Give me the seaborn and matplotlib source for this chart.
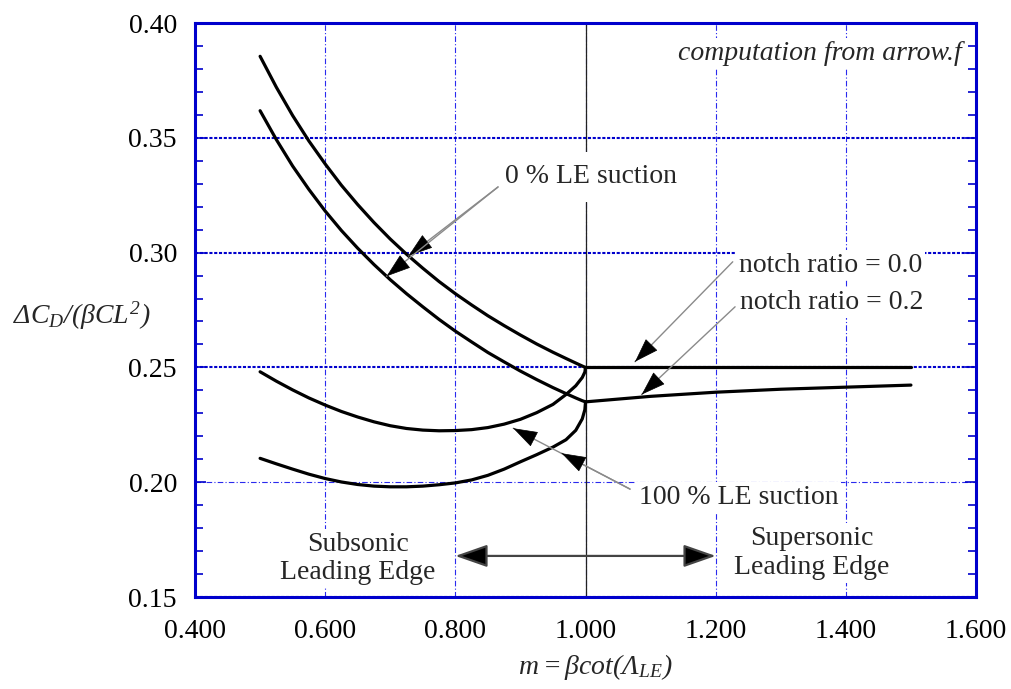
import matplotlib
matplotlib.use("Agg")
import matplotlib.pyplot as plt
from matplotlib.ticker import MultipleLocator, FormatStrFormatter
import pandas as pd
import seaborn as sns

# Subsonic leading edge (m <= 1)
m_sub = [0.500, 0.525, 0.550, 0.575, 0.600, 0.625, 0.650, 0.675, 0.700, 0.725, 0.750, 0.775,
         0.800, 0.825, 0.850, 0.875, 0.900, 0.925, 0.950, 0.970, 0.985, 0.995, 0.999, 1.000]
cd_le0_notch00 = [0.3855, 0.3720, 0.3597, 0.3486, 0.3386, 0.3293, 0.3209, 0.3131, 0.3059, 0.2993,
                  0.2932, 0.2874, 0.2821, 0.2772, 0.2725, 0.2682, 0.2641, 0.2602, 0.2566, 0.2539,
                  0.2519, 0.2506, 0.2501, 0.2500]
cd_le0_notch02 = [0.3618, 0.3492, 0.3377, 0.3275, 0.3181, 0.3096, 0.3019, 0.2948, 0.2882, 0.2821,
                  0.2764, 0.2709, 0.2658, 0.2611, 0.2565, 0.2524, 0.2484, 0.2447, 0.2412, 0.2386,
                  0.2367, 0.2355, 0.2351, 0.2350]
cd_le100_notch00 = [0.2481, 0.2440, 0.2402, 0.2367, 0.2336, 0.2308, 0.2284, 0.2263, 0.2246, 0.2234,
                    0.2227, 0.2224, 0.2225, 0.2229, 0.2238, 0.2253, 0.2274, 0.2303, 0.2339, 0.2382,
                    0.2420, 0.2456, 0.2480, 0.2500]
cd_le100_notch02 = [0.2104, 0.2080, 0.2057, 0.2035, 0.2016, 0.2001, 0.1990, 0.1983, 0.1980, 0.1980,
                    0.1983, 0.1989, 0.1997, 0.2010, 0.2030, 0.2057, 0.2089, 0.2120, 0.2153, 0.2185,
                    0.2226, 0.2276, 0.2316, 0.2350]

# Supersonic leading edge (m >= 1)
m_sup = [1.0, 1.1, 1.2, 1.3, 1.4, 1.5]
cd_sup_notch00 = [0.2500, 0.2500, 0.2500, 0.2500, 0.2500, 0.2500]
cd_sup_notch02 = [0.2350, 0.2374, 0.2392, 0.2405, 0.2414, 0.2423]

x_ticks = [0.4, 0.6, 0.8, 1.0, 1.2, 1.4, 1.6]
y_ticks = [0.15, 0.20, 0.25, 0.30, 0.35, 0.40]

curves = [
    ("0% LE, notch 0.0", m_sub, cd_le0_notch00),
    ("0% LE, notch 0.2", m_sub, cd_le0_notch02),
    ("100% LE, notch 0.0", m_sub, cd_le100_notch00),
    ("100% LE, notch 0.2", m_sub, cd_le100_notch02),
    ("supersonic, notch 0.0", m_sup, cd_sup_notch00),
    ("supersonic, notch 0.2", m_sup, cd_sup_notch02),
]
df = pd.concat(
    [pd.DataFrame({"m": m, "dcd": v, "curve": name}) for name, m, v in curves],
    ignore_index=True,
)

sns.set_theme(style="white")
plt.rcParams["font.family"] = ["Liberation Serif", "DejaVu Serif"]
plt.rcParams["mathtext.fontset"] = "custom"
plt.rcParams["mathtext.rm"] = "Liberation Serif:italic"
plt.rcParams["mathtext.it"] = "Liberation Serif:italic"
plt.rcParams["mathtext.bf"] = "Liberation Serif:bold"

BLUE = "#0000cc"
GRID = "#2a2aee"
FS = 20

fig = plt.figure(figsize=(10.11, 6.89), dpi=100)
ax = fig.add_axes([0.1929, 0.1335, 0.7725, 0.8331])

sns.lineplot(data=df, x="m", y="dcd", units="curve", estimator=None, sort=False,
             color="black", lw=2.3, ax=ax, legend=False, zorder=2)

ax.set_xlim(0.4, 1.6)
ax.set_ylim(0.15, 0.40)
ax.set_xticks(x_ticks)
ax.set_yticks(y_ticks)
ax.xaxis.set_major_formatter(FormatStrFormatter("%.3f"))
ax.yaxis.set_major_formatter(FormatStrFormatter("%.2f"))
ax.yaxis.set_minor_locator(MultipleLocator(0.01))

ax.set_axisbelow(True)
ax.xaxis.grid(True, ls=(0, (5, 2, 1, 2)), lw=0.8, color=GRID)
ax.yaxis.grid(True, ls=(0, (1.5, 0.8)), lw=1.5, color=BLUE)
for val, gl in zip(y_ticks, ax.yaxis.get_gridlines()):
    if abs(val - 0.20) < 1e-9:
        gl.set_linestyle((0, (5, 2, 1, 2)))
        gl.set_linewidth(0.8)
        gl.set_color(GRID)

# sonic leading edge, m = 1
ax.axvline(1.0, color="#222222", lw=0.9, zorder=1)

for s in ax.spines.values():
    s.set_color(BLUE)
    s.set_linewidth(2.2)
    s.set_visible(True)

ax.tick_params(axis="y", which="both", direction="in", left=True, right=True,
               color=BLUE, width=1.2, labelsize=FS, pad=13, labelcolor="black")
ax.tick_params(axis="y", which="major", length=8)
ax.tick_params(axis="y", which="minor", length=6)
ax.tick_params(axis="x", which="both", length=0, labelsize=FS, pad=16, labelcolor="black")

ax.set_xlabel(r"$m = \beta cot(\Lambda_{LE})$", fontsize=FS, va="center")
ax.xaxis.set_label_coords(0.512, -0.122)
ax.set_ylabel(r"$\Delta C_D/(\beta CL^2)$", fontsize=FS, rotation=0,
              ha="center", va="center")
ax.yaxis.set_label_coords(-0.145, 0.49)

white = dict(facecolor="white", edgecolor="none", boxstyle="square,pad=0.1")

ax.text(1.5786, 0.3839, "computation from arrow.f", fontsize=FS, style="italic",
        ha="right", va="baseline", bbox=white, zorder=3)
ax.text(0.8763, 0.3303, "0 % LE suction", fontsize=FS, ha="left", va="baseline",
        bbox=dict(facecolor="white", edgecolor="none", boxstyle="square,pad=0.45"), zorder=3)
ax.text(1.2359, 0.2917, "notch ratio = 0.0", fontsize=FS, ha="left", va="baseline",
        bbox=white, zorder=3)
ax.text(1.2374, 0.2753, "notch ratio = 0.2", fontsize=FS, ha="left", va="baseline",
        bbox=white, zorder=3)
ax.text(1.0822, 0.1905, "100 % LE suction", fontsize=FS, ha="left", va="baseline",
        bbox=white, zorder=3)
ax.text(0.6505, 0.1700, "Subsonic", fontsize=FS, ha="center", va="baseline", bbox=white, zorder=3)
ax.text(0.6505, 0.1578, "Leading Edge", fontsize=FS, ha="center", va="baseline", bbox=white, zorder=3)
ax.text(1.348, 0.1727, "Supersonic", fontsize=FS, ha="center", va="baseline", bbox=white, zorder=3)
ax.text(1.348, 0.1600, "Leading Edge", fontsize=FS, ha="center", va="baseline", bbox=white, zorder=3)


def pointer(start, tip):
    # thin grey leader with a black arrowhead at the tip
    ax.annotate("", xy=tip, xytext=start,
                arrowprops=dict(arrowstyle="-", color="#8a8a8a", lw=1.0,
                                shrinkA=0, shrinkB=0), zorder=5)
    near = (tip[0] + 0.002 * (start[0] - tip[0]), tip[1] + 0.002 * (start[1] - tip[1]))
    ax.annotate("", xy=tip, xytext=near,
                arrowprops=dict(arrowstyle="-|>,head_length=0.8,head_width=0.27",
                                color="black", lw=0.5, mutation_scale=20,
                                shrinkA=0, shrinkB=0), zorder=5)


pointer((0.8656, 0.3286), (0.7280, 0.2986))
pointer((0.8656, 0.3286), (0.6943, 0.2897))
pointer((1.2262, 0.2960), (1.0761, 0.2525))
pointer((1.2298, 0.2764), (1.0863, 0.2382))
pointer((1.0684, 0.1970), (0.8890, 0.2235))
pointer((1.0684, 0.1970), (0.9634, 0.2126))

# subsonic / supersonic range marker
ax.annotate("", xy=(1.2, 0.1679), xytext=(0.8, 0.1679),
            arrowprops=dict(arrowstyle="<|-|>,head_length=1.0,head_width=0.35",
                            fc="black", ec="#444444", lw=1.6, mutation_scale=20,
                            shrinkA=0, shrinkB=0), zorder=4)

fig.savefig("out.png", dpi=100)
